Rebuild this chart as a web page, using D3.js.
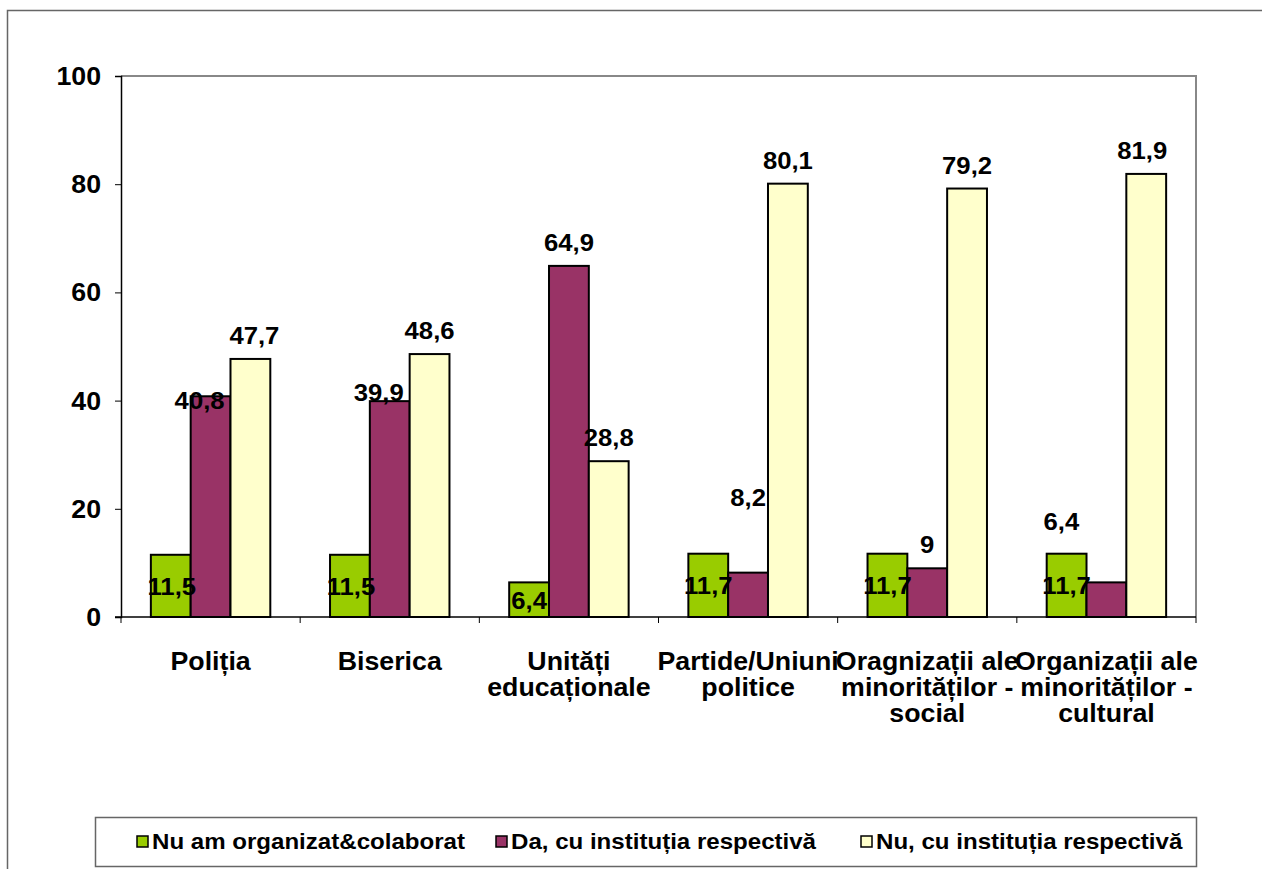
<!DOCTYPE html>
<html>
<head>
<meta charset="utf-8">
<script src="https://cdn.jsdelivr.net/npm/d3@7"></script>
<style>
  body { margin: 0; background: #fff; }
  text { font-family: "Liberation Sans", Arial, sans-serif; font-weight: bold; fill: #000; }
</style>
</head>
<body>
<svg id="chart" width="1262" height="869"></svg>
<script>
// categories (line breaks as in the original)
var categories = [
  "Poliția",
  "Biserica",
  "Unități\neducaționale",
  "Partide/Uniuni\npolitice",
  "Oragnizații ale\nminorităților -\nsocial",
  "Organizații ale\nminorităților -\ncultural"
];
var seriesNames = ["Nu am organizat&colaborat", "Da, cu instituția respectivă", "Nu, cu instituția respectivă"];
var nuAmOrganizat = [11.5, 11.5, 6.4, 11.7, 11.7, 11.7];
var daCuInstitutia = [40.8, 39.9, 64.9, 8.2, 9, 6.4];
var nuCuInstitutia = [47.7, 48.6, 28.8, 80.1, 79.2, 81.9];
var yTicks = [0, 20, 40, 60, 80, 100];

var colors = ["#99CC00", "#993366", "#FFFFCC"];
// hand-moved data labels in the original (dx, dy per series / category)
var labelNudge = [
  [[1,0],[1,0],[0,0],[0,0],[0,0],[0,0]],
  [[-11,28],[-11,15],[0,0],[0,-52],[0,0],[-45,-37]],
  [[4,0],[0,0],[0,0],[0,0],[0,0],[-4,0]]
];

var svg = d3.select("#chart");
var stretch = 1.07;   // text in the source is a bit wider than normal

// outer frame
svg.append("rect")
  .attr("x", 7.5).attr("y", 10.5)
  .attr("width", 1300).attr("height", 900)
  .attr("fill", "none").attr("stroke", "#666").attr("stroke-width", 1.5);

var margin = {left: 121, top: 76, right: 1196, bottom: 617};

var x0 = d3.scaleBand()
  .domain(categories)
  .range([margin.left, margin.right]);
var bw = x0.bandwidth() / 4.5;   // gap width 150%

var y = d3.scaleLinear()
  .domain([0, 100])
  .range([margin.bottom, margin.top]);

// plot area frame (top / right gray)
svg.append("path")
  .attr("d", "M" + margin.left + "," + margin.top + "H" + margin.right + "V" + margin.bottom)
  .attr("fill", "none").attr("stroke", "#888").attr("stroke-width", 2);

function stretchedText(g, x, yy, anchor, str, fs) {
  return g.append("text")
    .attr("transform", "translate(" + x + "," + yy + ") scale(" + stretch + ",1)")
    .attr("text-anchor", anchor)
    .style("font-size", fs + "px")
    .text(str);
}

// y axis
var yAxis = d3.axisLeft(y).tickValues(yTicks).tickSize(6).tickFormat("");
var gy = svg.append("g").attr("transform", "translate(" + margin.left + ",0)").call(yAxis);
gy.select(".domain").attr("stroke", "#000").attr("stroke-width", 1.5);
gy.selectAll(".tick line").attr("stroke", "#000");
yTicks.forEach(function(t) {
  stretchedText(svg, 101, y(t) + 9, "end", t, 25);
});

// x axis (ticks at category boundaries)
var gx = svg.append("g").attr("transform", "translate(0," + margin.bottom + ")");
gx.append("line")
  .attr("x1", margin.left - 6).attr("x2", margin.right)
  .attr("stroke", "#000").attr("stroke-width", 1.5);
gx.selectAll(".btick")
  .data(d3.range(categories.length + 1))
  .enter().append("line")
  .attr("x1", function(i) { return margin.left + i * x0.step(); })
  .attr("x2", function(i) { return margin.left + i * x0.step(); })
  .attr("y1", 0).attr("y2", 6)
  .attr("stroke", "#000");

categories.forEach(function(c) {
  var cx = x0(c) + x0.bandwidth() / 2;
  c.split("\n").forEach(function(line, i) {
    stretchedText(svg, cx, 670 + i * 26, "middle", line, 25);
  });
});

// bars
var series = [nuAmOrganizat, daCuInstitutia, nuCuInstitutia];
series.forEach(function(vals, s) {
  svg.append("g").selectAll("rect")
    .data(vals)
    .enter().append("rect")
    .attr("x", function(d, i) { return x0(categories[i]) + bw * 0.75 + s * bw; })
    .attr("y", function(d) { return y(d); })
    .attr("width", bw)
    .attr("height", function(d) { return y(0) - y(d); })
    .attr("fill", colors[s])
    .attr("stroke", "#000")
    .attr("stroke-width", 2);
});

// data labels
series.forEach(function(vals, s) {
  vals.forEach(function(d, i) {
    var cx = x0(categories[i]) + bw * 0.75 + s * bw + bw / 2 + labelNudge[s][i][0];
    var ly;
    if (s == 0) {
      ly = (y(d) + y(0)) / 2 + 9;   // centered in bar
    } else {
      ly = y(d) - 15;                // outside end
    }
    ly += labelNudge[s][i][1];
    stretchedText(svg, cx, ly, "middle", String(d).replace(".", ","), 24);
  });
});

// legend
var lg = svg.append("g");
lg.append("rect")
  .attr("x", 95.5).attr("y", 817.5)
  .attr("width", 1101).attr("height", 49)
  .attr("fill", "#fff").attr("stroke", "#666").attr("stroke-width", 1.5);
var legendX = [137, 496, 861];
seriesNames.forEach(function(name, s) {
  lg.append("rect")
    .attr("x", legendX[s]).attr("y", 836)
    .attr("width", 11).attr("height", 11)
    .attr("fill", colors[s]).attr("stroke", "#000").attr("stroke-width", 1.5);
  stretchedText(lg, legendX[s] + 15, 849, "start", name, 22.5);
});
</script>
</body>
</html>
